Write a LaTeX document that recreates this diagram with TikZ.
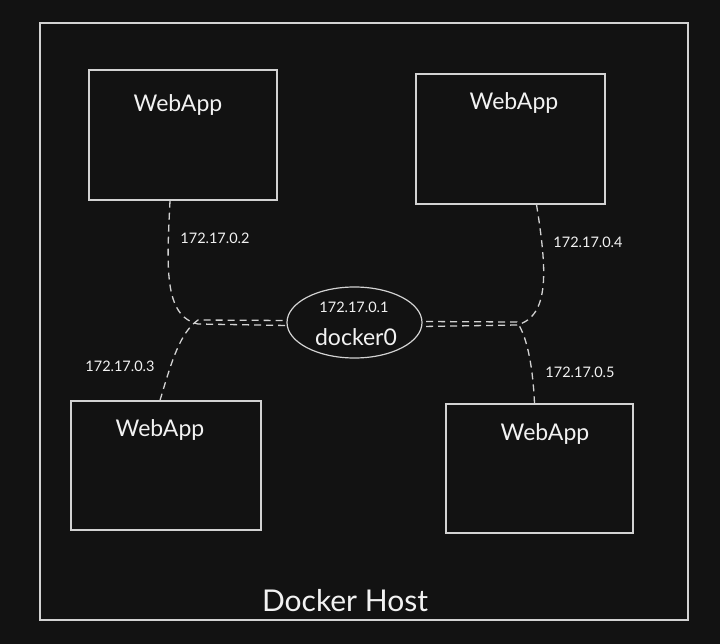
\documentclass[tikz,border=0pt]{standalone}
\usepackage{fontspec}
\setmainfont{Lato}
\usetikzlibrary{shapes.geometric}
\definecolor{bgc}{HTML}{121212}
\definecolor{linec}{HTML}{D2D2D2}
\definecolor{txtc}{HTML}{F2F2F2}
\tikzset{
  box/.style={draw=linec, line width=1.2pt, rectangle, inner sep=0pt},
  wtext/.style={text=txtc, font=\fontsize{23}{26}\selectfont, inner sep=0pt},
  iptext/.style={text=txtc, font=\fontsize{14.5}{16}\selectfont, inner sep=0pt},
  conn/.style={draw=linec, line width=1.3pt, dash pattern=on 7pt off 5pt},
}
\begin{document}
\begin{tikzpicture}[x=1pt,y=-1pt]
\fill[bgc] (0,0) rectangle (720,644);
\useasboundingbox (0,0) rectangle (720,644);
% host
\node[box, minimum width=648pt, minimum height=597pt] (host) at (364,321.5) {};
\node[text=txtc, font=\fontsize{30}{33}\selectfont, inner sep=0pt] (hostt) at (345,601) {Docker Host};
% boxes
\node[box, minimum width=188pt, minimum height=130pt] (tl) at (183,135) {};
\node[wtext] (tlt) at (178,105) {WebApp};
\node[box, minimum width=189pt, minimum height=130pt] (tr) at (510.5,139) {};
\node[wtext] (trt) at (514,103) {WebApp};
\node[box, minimum width=190pt, minimum height=129pt] (bl) at (166,465.5) {};
\node[wtext] (blt) at (160,430) {WebApp};
\node[box, minimum width=187pt, minimum height=129pt] (br) at (539.5,468.5) {};
\node[wtext] (brt) at (545,434) {WebApp};
% docker0
\node[draw=linec, line width=1.2pt, ellipse, minimum width=135pt, minimum height=71pt, inner sep=0pt] (d0) at (354.5,322.5) {};
\node[iptext] (d0ip) at (354,307) {172.17.0.1};
\node[text=txtc, font=\fontsize{23}{25}\selectfont, inner sep=0pt] (d0t) at (356,337) {docker0};
% junctions
\coordinate (jl) at (198,324);
\coordinate (jr) at (517,325);
% connectors
\draw[conn] ([xshift=-13pt]tl.south) .. controls (167,265) and (163,316) .. (jl) -- ([yshift=-3pt]d0.west);
\draw[conn] ([xshift=-6pt]bl.north) .. controls (172,360) and (180,333) .. ([yshift=4pt]jl) -- ([yshift=2pt]d0.west);
\draw[conn] ([xshift=26pt]tr.south) .. controls (547,270) and (550,316) .. (jr) -- ([yshift=-4pt]d0.east);
\draw[conn] ([xshift=-5pt]br.north) .. controls (533,370) and (528,338) .. ([yshift=3pt]jr) -- ([yshift=1pt]d0.east);
% ip labels
\node[iptext] (ip2) at (215,238) {172.17.0.2};
\node[iptext] (ip4) at (588,242) {172.17.0.4};
\node[iptext] (ip3) at (120,366) {172.17.0.3};
\node[iptext] (ip5) at (580,372) {172.17.0.5};
\end{tikzpicture}
\end{document}
